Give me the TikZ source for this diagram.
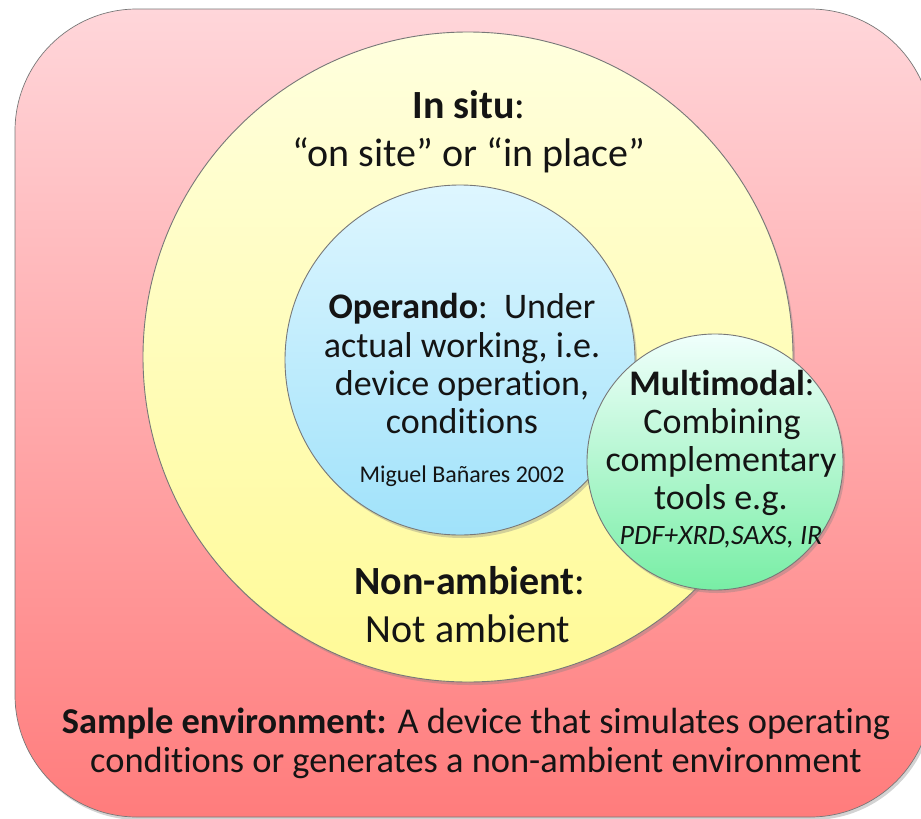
\documentclass[tikz,border=0pt]{standalone}
\usepackage{fontspec}
\setmainfont{Carlito}[Ligatures={NoCommon,NoContextual}]
\usetikzlibrary{shadows}
\definecolor{redtop}{RGB}{255,214,218}
\definecolor{redbot}{RGB}{255,124,124}
\definecolor{yeltop}{RGB}{255,255,222}
\definecolor{yelbot}{RGB}{255,250,150}
\definecolor{bluetop}{RGB}{222,246,255}
\definecolor{bluebot}{RGB}{160,226,250}
\definecolor{greentop}{RGB}{240,255,252}
\definecolor{greenbot}{RGB}{120,238,165}
\definecolor{edgegrey}{RGB}{120,120,120}
\definecolor{txt}{RGB}{20,20,20}
\newcommand\fsBig{\fontsize{40}{48}\selectfont}
\newcommand\fsMid{\fontsize{36}{40}\selectfont}
\newcommand\fsEnv{\fontsize{36.4}{40}\selectfont}
\newcommand\fsSmall{\fontsize{24}{28}\selectfont}
\newcommand\fsPdf{\fontsize{28}{32}\selectfont}
\newcommand\tiNoLig{t\kern0pt i}
\tikzset{
  outline/.style={draw=edgegrey, line width=0.9pt},
  ring/.style={circle, outline, inner sep=0pt,
    drop shadow={opacity=0.35, shadow xshift=2pt, shadow yshift=-3pt}},
  lbl/.style={anchor=base, inner sep=0pt, text=txt}
}
\begin{document}
\begin{tikzpicture}[x=1pt,y=-1pt]
\useasboundingbox (0,0) rectangle (921,819);
% sample environment box
\path[outline, line width=0.7pt, rounded corners=122pt, top color=redtop, bottom color=redbot,
  drop shadow={opacity=0.35, shadow xshift=2pt, shadow yshift=-3pt}]
  (15,9) rectangle (932,817);
% circles
\node[ring, minimum size=650pt, top color=yeltop, bottom color=yelbot] (insitu) at (468,357) {};
\node[ring, minimum size=350pt, top color=bluetop, bottom color=bluebot] (operando) at (460,360) {};
\node[ring, minimum size=256pt, top color=greentop, bottom color=greenbot] (multi) at (715,462) {};
% in situ text
\node[lbl, font=\fsBig] (t1) at (469,118) {\textbf{In situ}:};
\node[lbl, font=\fsBig] (t2) at (469,166) {“on site” or “in place”};
% operando text
\node[lbl, font=\fsMid] (o1) at (462,318) {\textbf{Operando}:\ \ Under};
\node[lbl, font=\fsMid] (o2) at (462,357) {actual working, i.e.};
\node[lbl, font=\fsMid] (o3) at (462,395) {device opera\tiNoLig on,};
\node[lbl, font=\fsMid] (o4) at (462,433) {condi\tiNoLig ons};
\node[lbl, font=\fsSmall] (o5) at (462,482) {Miguel Bañares 2002};
% multimodal text
\node[lbl, font=\fsMid] (m1) at (722,395) {\textbf{Multimodal}:};
\node[lbl, font=\fsMid] (m2) at (722,433) {Combining};
\node[lbl, font=\fsMid] (m3) at (721,471) {complementary};
\node[lbl, font=\fsMid] (m4) at (721,509) {tools e.g.};
\node[lbl, font=\fsPdf] (m5) at (721,544) {\textit{PDF+XRD,SAXS, IR}};
% non-ambient text
\node[lbl, font=\fsBig] (n1) at (470,594) {\textbf{Non-ambient}:};
\node[lbl, font=\fsBig] (n2) at (468,642) {Not ambient};
% sample environment text
\node[lbl, font=\fsEnv] (s1) at (476,733) {\textbf{Sample environment:} A device that simulates opera\tiNoLig ng};
\node[lbl, font=\fsEnv] (s2) at (476,772) {condi\tiNoLig ons or generates a non-ambient environment};
\end{tikzpicture}
\end{document}
